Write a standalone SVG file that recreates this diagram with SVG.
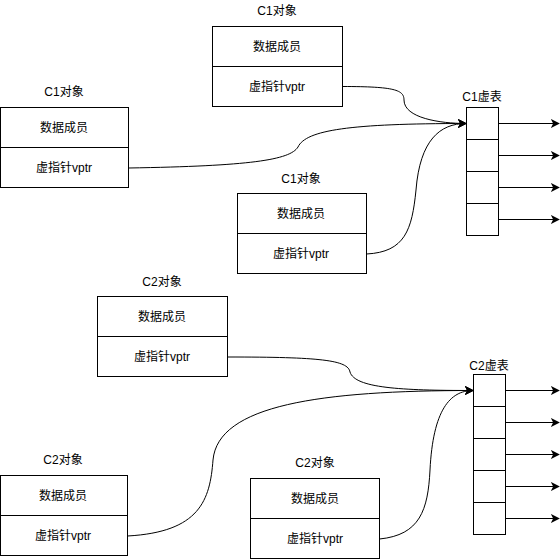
<svg xmlns="http://www.w3.org/2000/svg" width="560" height="560" viewBox="0 0 560 560">
<style>
.box{fill:#fff;stroke:#000;stroke-width:1}
.t{font-family:"Liberation Sans","Noto Sans CJK SC",sans-serif;font-size:12px;fill:#000;text-anchor:middle}
.e{fill:none;stroke:#000;stroke-width:1}
</style>
<defs>
<marker id="ah" viewBox="0 0 10 10" refX="9" refY="5" markerWidth="9" markerHeight="9" markerUnits="userSpaceOnUse" orient="auto">
<path d="M0,0 L10,5 L0,10 L2.5,5 Z" fill="#000"/>
</marker>
</defs>
<rect width="560" height="560" fill="#fff"/>
<g id="c1-obj-a">
<text class="t" x="277" y="15">C1对象</text>
<rect class="box" x="212.5" y="26.5" width="130" height="40"/>
<rect class="box" x="212.5" y="66.5" width="130" height="40"/>
<text class="t" x="277" y="51">数据成员</text>
<text class="t" x="277" y="91">虚指针vptr</text>
</g>
<g id="c1-obj-b">
<text class="t" x="64" y="96">C1对象</text>
<rect class="box" x="0.5" y="107.5" width="128" height="40"/>
<rect class="box" x="0.5" y="147.5" width="128" height="40"/>
<text class="t" x="64" y="132">数据成员</text>
<text class="t" x="64" y="172">虚指针vptr</text>
</g>
<g id="c1-obj-c">
<text class="t" x="301" y="183">C1对象</text>
<rect class="box" x="237.5" y="193.5" width="129" height="40"/>
<rect class="box" x="237.5" y="233.5" width="129" height="40"/>
<text class="t" x="301" y="218">数据成员</text>
<text class="t" x="301" y="258">虚指针vptr</text>
</g>
<g id="c1-vtable">
<text class="t" x="482" y="101">C1虚表</text>
<rect class="box" x="466.5" y="107.5" width="32" height="32"/>
<rect class="box" x="466.5" y="139.5" width="32" height="32"/>
<rect class="box" x="466.5" y="171.5" width="32" height="32"/>
<rect class="box" x="466.5" y="203.5" width="32" height="32"/>
</g>
<g id="c2-obj-a">
<text class="t" x="162" y="286">C2对象</text>
<rect class="box" x="97.5" y="296.5" width="130" height="40"/>
<rect class="box" x="97.5" y="336.5" width="130" height="40"/>
<text class="t" x="162" y="321">数据成员</text>
<text class="t" x="162" y="361">虚指针vptr</text>
</g>
<g id="c2-obj-b">
<text class="t" x="63" y="464">C2对象</text>
<rect class="box" x="0.5" y="475.5" width="127" height="40"/>
<rect class="box" x="0.5" y="515.5" width="127" height="40"/>
<text class="t" x="63" y="500">数据成员</text>
<text class="t" x="63" y="540">虚指针vptr</text>
</g>
<g id="c2-obj-c">
<text class="t" x="315" y="467">C2对象</text>
<rect class="box" x="250.5" y="478.5" width="129" height="40"/>
<rect class="box" x="250.5" y="518.5" width="129" height="40"/>
<text class="t" x="315" y="503">数据成员</text>
<text class="t" x="315" y="543">虚指针vptr</text>
</g>
<g id="c2-vtable">
<text class="t" x="489" y="370">C2虚表</text>
<rect class="box" x="473.5" y="374.5" width="32" height="32"/>
<rect class="box" x="473.5" y="406.5" width="32" height="32"/>
<rect class="box" x="473.5" y="438.5" width="32" height="32"/>
<rect class="box" x="473.5" y="470.5" width="32" height="32"/>
<rect class="box" x="473.5" y="502.5" width="32" height="32"/>
</g>
<g id="connectors">
<path class="e" marker-end="url(#ah)" d="M342.5,86.5 C395,86.5 404,90 404,100 C404,118 440,123.5 466,123.5"/>
<path class="e" marker-end="url(#ah)" d="M128.5,168 C250,166 290,160 298,147 C306,130 350,123.5 466,123.5"/>
<path class="e" marker-end="url(#ah)" d="M366.5,254 C405,252 412,230 416,190 C420,140 440,123.5 466,123.5"/>
<path class="e" marker-end="url(#ah)" d="M227.5,357 C320,357 348,360 350,372 C355,388 400,390.5 473,390.5"/>
<path class="e" marker-end="url(#ah)" d="M127.5,536 C200,532 210,500 213,460 C218,405 320,390.5 473,390.5"/>
<path class="e" marker-end="url(#ah)" d="M379.5,539 C420,535 428,510 430,470 C433,410 450,390.5 473,390.5"/>
<path class="e" marker-end="url(#ah)" d="M498.5,123.5 H559"/>
<path class="e" marker-end="url(#ah)" d="M498.5,155.5 H559"/>
<path class="e" marker-end="url(#ah)" d="M498.5,187.5 H559"/>
<path class="e" marker-end="url(#ah)" d="M498.5,219.5 H559"/>
<path class="e" marker-end="url(#ah)" d="M505.5,390.5 H559"/>
<path class="e" marker-end="url(#ah)" d="M505.5,422.5 H559"/>
<path class="e" marker-end="url(#ah)" d="M505.5,454.5 H559"/>
<path class="e" marker-end="url(#ah)" d="M505.5,486.5 H559"/>
<path class="e" marker-end="url(#ah)" d="M505.5,518.5 H559"/>
</g>
</svg>
